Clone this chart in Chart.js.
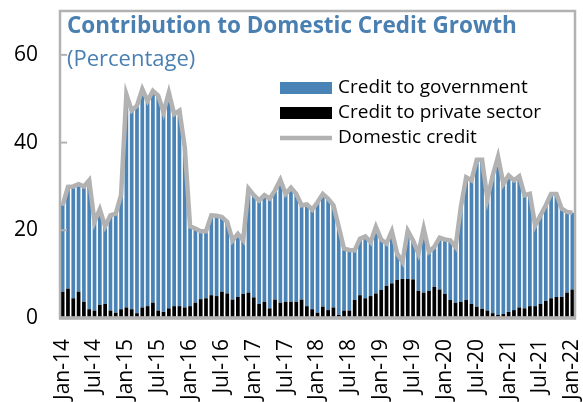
<!DOCTYPE html>
<html>
<head>
<meta charset="utf-8">
<script src="https://cdn.jsdelivr.net/npm/chart.js@4/dist/chart.umd.min.js"></script>
<style>
  body { margin: 0; background: #fff; }
  #wrap { width: 583px; height: 402px; position: relative; }
</style>
</head>
<body>
<div id="wrap"><canvas id="chart"></canvas></div>
<script>
const MONTHS = ['Jan', 'Feb', 'Mar', 'Apr', 'May', 'Jun', 'Jul', 'Aug', 'Sep', 'Oct', 'Nov', 'Dec'];
const YEARS = ['14', '15', '16', '17', '18', '19', '20', '21', '22'];

// contribution of credit to government (pp)
const government = [
  19.7, 23.2, 25.5, 24.5, 26.3, 29.4, 20.2, 21.8, 17.7, 21.7, 22.6, 26.0,
  48.6, 45.3, 47.3, 49.8, 46.8, 48.3, 49.0, 45.5, 49.2, 43.8, 44.6, 36.5,
  18.2, 16.9, 15.5, 15.3, 18.2, 18.3, 17.0, 16.3, 13.5, 14.4, 12.2, 23.7,
  23.3, 23.6, 24.3, 25.0, 24.9, 28.0, 24.6, 26.0, 24.6, 21.5, 23.2, 22.7,
  25.2, 25.7, 25.4, 23.3, 20.1, 14.1, 13.8, 11.3, 12.9, 14.1, 12.3, 15.2,
  11.5, 9.7, 11.9, 6.0, 3.9, 11.0, 8.9, 8.5, 14.6, 8.9, 9.1, 11.8,
  12.4, 13.6, 12.7, 21.6, 28.0, 28.2, 33.5, 34.0, 25.5, 31.4, 36.1, 29.7,
  31.1, 29.6, 29.9, 25.8, 25.6, 18.4, 20.2, 21.8, 23.8, 23.5, 20.1, 18.4,
  17.5
];

// contribution of credit to private sector (pp)
const privateSector = [
  6.0, 6.7, 4.5, 6.0, 3.7, 2.0, 1.7, 3.0, 3.2, 1.7, 1.2, 2.0,
  2.4, 2.0, 1.1, 2.4, 2.7, 3.5, 1.7, 1.4, 2.2, 2.7, 2.7, 2.4,
  2.7, 3.5, 4.3, 4.5, 5.2, 5.0, 6.0, 5.6, 4.2, 4.8, 5.5, 5.8,
  4.7, 3.2, 3.7, 2.2, 4.2, 3.5, 3.7, 3.7, 3.7, 4.2, 2.7, 2.0,
  1.2, 2.6, 1.8, 2.4, 0.7, 1.7, 1.7, 4.1, 5.2, 4.5, 5.0, 5.6,
  6.4, 7.3, 7.9, 8.7, 8.9, 8.9, 8.8, 6.2, 5.8, 6.2, 7.1, 6.5,
  5.5, 4.1, 3.5, 3.7, 4.1, 3.2, 2.6, 2.1, 1.7, 1.1, 0.7, 0.9,
  1.4, 1.8, 2.4, 2.2, 2.7, 2.7, 3.2, 3.9, 4.5, 4.8, 4.8, 5.8,
  6.5
];

// domestic credit growth (%)
const domesticCredit = [
  25.7, 29.9, 30.0, 30.5, 30.0, 31.4, 21.9, 24.8, 20.9, 23.4, 23.8, 28.0,
  51.0, 47.3, 48.4, 52.2, 49.5, 51.8, 50.7, 46.9, 51.4, 46.5, 47.3, 38.9,
  20.9, 20.4, 19.8, 19.8, 23.4, 23.3, 23.0, 21.9, 17.7, 19.2, 17.7, 29.5,
  28.0, 26.8, 28.0, 27.2, 29.1, 31.5, 28.3, 29.7, 28.3, 25.7, 25.9, 24.7,
  26.4, 28.3, 27.2, 25.7, 20.8, 15.8, 15.5, 15.4, 18.1, 18.6, 17.3, 20.8,
  17.9, 17.0, 19.8, 14.7, 12.8, 19.9, 17.7, 14.7, 20.4, 15.1, 16.2, 18.3,
  17.9, 17.7, 16.2, 25.3, 32.1, 31.4, 36.1, 36.1, 27.2, 32.5, 36.8, 30.6,
  32.5, 31.4, 32.3, 28.0, 28.3, 21.1, 23.4, 25.7, 28.3, 28.3, 24.9, 24.2,
  24.0
];

const yTicks = [0, 20, 40, 60];

const labels = [];
YEARS.forEach(y => MONTHS.forEach(m => labels.push(m + '-' + y)));
labels.length = domesticCredit.length;

const FONT = "'Open Sans', 'DejaVu Sans', sans-serif";
const BLUE = '#4a84b7';
const GREY = '#b2b2b2';

const frame = {
  id: 'frame',
  afterDatasetsDraw(chart) {
    const { ctx, chartArea: a, scales } = chart;
    ctx.save();
    // inner y tick marks
    ctx.strokeStyle = GREY;
    ctx.lineWidth = 2;
    yTicks.slice(1).forEach(v => {
      const y = scales.y.getPixelForValue(v);
      ctx.beginPath();
      ctx.moveTo(a.left, y);
      ctx.lineTo(a.left + 7, y);
      ctx.stroke();
    });
    // box
    ctx.lineWidth = 2.5;
    ctx.strokeRect(a.left, a.top, a.right - a.left, a.bottom - a.top);
    ctx.lineWidth = 3.5;
    ctx.beginPath();
    ctx.moveTo(a.left - 1, a.bottom);
    ctx.lineTo(a.right + 1, a.bottom);
    ctx.stroke();

    // title
    ctx.fillStyle = '#4a7fb2';
    ctx.textBaseline = 'middle';
    ctx.font = 'bold 22.5px ' + FONT;
    ctx.fillText('Contribution to Domestic Credit Growth', a.left + 7, 27);
    ctx.font = '22px ' + FONT;
    ctx.fillText('(Percentage)', a.left + 7, 60);

    // legend
    const lx = 280, tx = 338;
    ctx.font = '19px ' + FONT;
    ctx.fillStyle = BLUE;
    ctx.fillRect(lx, 82, 52, 12);
    ctx.fillStyle = '#000';
    ctx.fillRect(lx, 107, 52, 12);
    ctx.strokeStyle = GREY;
    ctx.lineWidth = 4.5;
    ctx.beginPath();
    ctx.moveTo(lx, 138);
    ctx.lineTo(lx + 52, 138);
    ctx.stroke();
    ctx.fillStyle = '#000';
    ctx.fillText('Credit to government', tx, 88);
    ctx.fillText('Credit to private sector', tx, 113);
    ctx.fillText('Domestic credit', tx, 138);
    ctx.restore();
  }
};

new Chart(document.getElementById('chart'), {
  type: 'bar',
  data: {
    labels: labels,
    datasets: [
      {
        type: 'line',
        label: 'Domestic credit',
        data: domesticCredit,
        borderColor: GREY,
        borderWidth: 4.5,
        pointRadius: 0,
        tension: 0,
        stack: 'total',
        order: 0
      },
      {
        label: 'Credit to private sector',
        data: privateSector,
        backgroundColor: '#000',
        stack: 'parts',
        barPercentage: 0.7,
        categoryPercentage: 1,
        order: 1
      },
      {
        label: 'Credit to government',
        data: government,
        backgroundColor: BLUE,
        stack: 'parts',
        barPercentage: 0.7,
        categoryPercentage: 1,
        order: 1
      }
    ]
  },
  options: {
    responsive: true,
    maintainAspectRatio: false,
    animation: false,
    layout: { padding: { top: 11, right: 8, left: 0, bottom: 0 } },
    plugins: {
      legend: { display: false },
      tooltip: { enabled: false }
    },
    scales: {
      x: {
        stacked: true,
        grid: { display: false },
        border: { display: false },
        ticks: {
          autoSkip: false,
          maxRotation: 90,
          minRotation: 90,
          padding: 13,
          color: '#000',
          font: { family: FONT, size: 21 },
          callback: (v, i) => (i % 6 === 0 ? labels[i] : '')
        },
        afterFit: s => {
          s.height = 84;
          s.paddingLeft = 0;
          s.paddingRight = 0;
        }
      },
      y: {
        stacked: true,
        min: 0,
        max: 70,
        grid: { display: false },
        border: { display: false },
        afterBuildTicks: s => { s.ticks = yTicks.map(v => ({ value: v })); },
        ticks: {
          padding: 14,
          color: '#000',
          font: { family: FONT, size: 21 }
        },
        afterFit: s => {
          s.width = 60;
          s.paddingTop = 0;
          s.paddingBottom = 0;
        }
      }
    }
  },
  plugins: [frame]
});
</script>
</body>
</html>
